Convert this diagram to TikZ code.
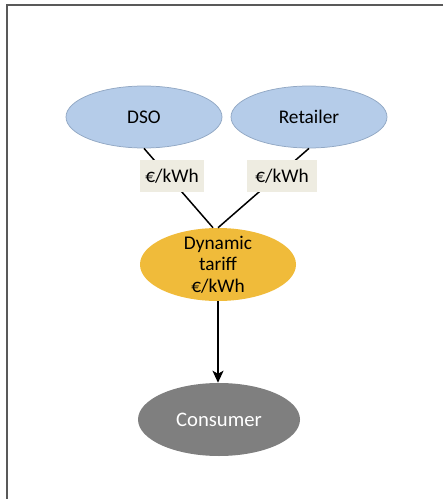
\documentclass[tikz,border=0pt]{standalone}
\usepackage{fontspec}
\setmainfont{Carlito}
\usetikzlibrary{shapes.geometric,arrows.meta}

\newlength{\du}
\setlength{\du}{0.75pt}

\definecolor{framecolor}{RGB}{89,89,89}
\definecolor{partyfill}{RGB}{181,204,233}
\definecolor{partyline}{RGB}{146,168,196}
\definecolor{tarifffill}{RGB}{240,187,58}
\definecolor{consumerfill}{RGB}{127,127,127}
\definecolor{boxfill}{RGB}{238,236,225}

\tikzset{
  party/.style={ellipse,draw=partyline,fill=partyfill,line width=0.75\du,
    minimum width=156\du,minimum height=62\du,inner sep=0pt,
    font=\fontsize{14.5}{16}\selectfont},
  tariff/.style={ellipse,fill=tarifffill,minimum width=156\du,minimum height=73\du,
    inner sep=0pt,inner ysep=-6\du,align=center,font=\fontsize{14.5}{16.2}\selectfont},
  consumer/.style={ellipse,fill=consumerfill,minimum width=162\du,minimum height=73\du,
    inner sep=0pt,text=white,font=\fontsize{15.5}{18}\selectfont},
  pricebox/.style={rectangle,fill=boxfill,minimum height=32\du,inner sep=0pt,
    font=\fontsize{14.5}{16}\selectfont},
  link/.style={line width=1.5\du,black},
}

\begin{document}
\begin{tikzpicture}
\pgftransformxscale{1.000000}
\pgftransformyscale{-1.000000}
\useasboundingbox (0\du,0\du) rectangle (443\du,499\du);
% frame
\draw[line width=1.5\du,framecolor] (443\du,5\du)--(7\du,5\du)--(7\du,499\du);

\node[party] (dso) at (144\du,117\du){DSO};
\node[party] (retailer) at (309\du,117\du){Retailer};
\node[tariff] (dyn) at (218\du,264.5\du){Dynamic\\tariff\\€/kWh};
\node[consumer] (consumer) at (219\du,419.5\du){Consumer};

\draw[link] (dso.south)--([xshift=-5\du]dyn.north);
\draw[link] (retailer.south)--(dyn.north);
\draw[link,-{Stealth[length=9pt,width=8.25pt,inset=2.25pt]}] (dyn.south)--(dyn.south|-consumer.north);

% was here!!!
\node[pricebox,minimum width=64\du] (dsoprice) at (172\du,176\du){€/kWh};
\node[pricebox,minimum width=70\du] (retprice) at (282\du,176\du){€/kWh};
\end{tikzpicture}
\end{document}
